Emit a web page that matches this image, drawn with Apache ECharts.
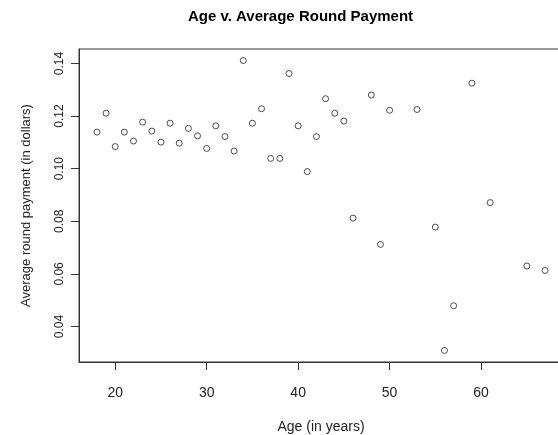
<!DOCTYPE html>
<html>
<head>
<meta charset="utf-8">
<script src="https://cdn.jsdelivr.net/npm/echarts@6/dist/echarts.min.js"></script>
<style>
  html, body { margin: 0; padding: 0; background: #fff; overflow: hidden; }
  #main { width: 558px; height: 435px; }
</style>
</head>
<body>
<div id="main"></div>
<script>
// ages of respondents (x)
var ages = [18, 19, 20, 21, 22, 23, 24, 25, 26, 27, 28, 29, 30, 31, 32, 33, 34, 35, 36, 37,
            38, 39, 40, 41, 42, 43, 44, 45, 46, 48, 49, 50, 53, 55, 56, 57, 59, 61, 65, 67];
// average round payment in dollars (y)
var payments = [0.1139, 0.1211, 0.1084, 0.1139, 0.1105, 0.1177, 0.1143, 0.1101, 0.1173, 0.1097,
                0.1153, 0.1125, 0.1077, 0.1163, 0.1122, 0.1067, 0.1411, 0.1173, 0.1228, 0.1039,
                0.1039, 0.1362, 0.1163, 0.0989, 0.1122, 0.1266, 0.1211, 0.1181, 0.0812, 0.1280,
                0.0712, 0.1222, 0.1225, 0.0778, 0.0309, 0.0479, 0.1325, 0.0871, 0.0630, 0.0613];
// tick labels
var xTicks = [20, 30, 40, 50, 60];
var yTicks = [0.04, 0.06, 0.08, 0.10, 0.12, 0.14];

var points = ages.map(function (a, i) { return [a, payments[i]]; });

var chart = echarts.init(document.getElementById('main'));
var fontFam = 'Liberation Sans, Arial, sans-serif';

chart.setOption({
    backgroundColor: '#fff',
    animation: false,
    title: {
        text: 'Age v. Average Round Payment',
        left: 183,
        top: 4,
        textStyle: { fontFamily: fontFam, fontSize: 15, fontWeight: 'bold', color: '#000' }
    },
    // plot box runs past the right edge of the picture, like the reference
    grid: {
        left: 79, right: -5, top: 49, bottom: 73,
        outerBoundsMode: 'none',
        show: true, borderColor: '#333', borderWidth: 1, backgroundColor: 'transparent'
    },
    xAxis: {
        type: 'value',
        min: 16.04, max: 68.96,
        name: 'Age (in years)',
        nameLocation: 'middle',
        nameGap: 58,
        nameTextStyle: { fontFamily: fontFam, fontSize: 14, color: '#222' },
        axisLine: { show: true, onZero: false, lineStyle: { color: '#333' } },
        axisTick: { show: true, length: 8, customValues: xTicks, lineStyle: { color: '#333' } },
        axisLabel: {
            customValues: xTicks, margin: 24,
            fontFamily: fontFam, fontSize: 14, color: '#222'
        },
        splitLine: { show: false }
    },
    yAxis: {
        type: 'value',
        min: 0.0265, max: 0.1455,
        name: 'Average round payment (in dollars)',
        nameLocation: 'middle',
        nameGap: 46,
        nameTextStyle: { fontFamily: fontFam, fontSize: 13, color: '#222' },
        axisLine: { show: true, onZero: false, lineStyle: { color: '#333' } },
        axisTick: { show: true, length: 8, customValues: yTicks, lineStyle: { color: '#333' } },
        axisLabel: {
            customValues: yTicks, rotate: 90, margin: 13,
            fontFamily: fontFam, fontSize: 12, color: '#222',
            formatter: function (v) { return v.toFixed(2); }
        },
        splitLine: { show: false }
    },
    series: [{
        type: 'scatter',
        data: points,
        symbol: 'circle',
        symbolSize: 6,
        itemStyle: { color: 'transparent', borderColor: '#222', borderWidth: 1 }
    }]
});
</script>
</body>
</html>
